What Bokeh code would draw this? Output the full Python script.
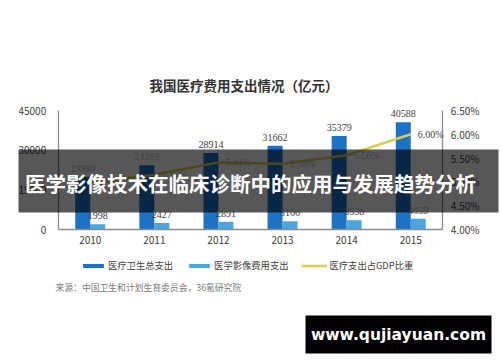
from bokeh.plotting import figure
from bokeh.models import (ColumnDataSource, Range1d, FactorRange, LinearAxis, FixedTicker,
                          PrintfTickFormatter, NumeralTickFormatter, LabelSet, Label,
                          BoxAnnotation, Legend, LegendItem)
from bokeh.transform import dodge
from bokeh.embed import file_html
from bokeh.resources import INLINE

# ---- data ----
years = ["2010", "2011", "2012", "2013", "2014", "2015"]
total_spend = [19980, 24269, 28914, 31662, 35379, 40588]
imaging_spend = [1998, 2427, 2891, 3166, 3538, 4059]
gdp_share = [4.98, 5.15, 5.41, 5.38, 5.56, 6.00]
left_ticks = [0, 15000, 30000, 45000]
right_ticks = [4.0, 4.5, 5.0, 5.5, 6.0, 6.5]
series_names = ["医疗卫生总支出", "医学影像费用支出", "医疗支出占GDP比重"]
title_text = "我国医疗费用支出情况（亿元）"
source_text = "来源：中国卫生和计划生育委员会，36氪研究院"
overlay_text = "医学影像技术在临床诊断中的应用与发展趋势分析"
watermark_text = "www.qujiayuan.com"

# ---- layout / style ----
FONT = "Noto Sans CJK SC"
W, H = 500, 362
PLOT_TOP, PLOT_BOTTOM = 110, 229          # pixel rows of the value-axis ends
C_DARK = "#1d72c6"
C_LIGHT = "#4aa6de"
C_LINE = "#d9cf4f"
TXT = "#404040"
AX = "#8c8c8c"

def sy(y_top):
    # top-based canvas row -> bokeh screen y (bottom-based, frame == canvas)
    return H - y_top

def span_range(lo, hi):
    per_px = (hi - lo) / (PLOT_BOTTOM - PLOT_TOP)
    return Range1d(lo - (H - PLOT_BOTTOM) * per_px, hi + PLOT_TOP * per_px)

src = ColumnDataSource(dict(
    year=years, total=total_spend, imaging=imaging_spend, share=gdp_share,
    total_lbl=[str(v) for v in total_spend],
    imaging_lbl=[str(v) for v in imaging_spend],
    share_lbl=["%.2f%%" % v for v in gdp_share],
))

xr = FactorRange(*years, range_padding=0.9, range_padding_units="absolute")
p = figure(width=W, height=H, x_range=xr, y_range=span_range(left_ticks[0], left_ticks[-1]),
           output_backend="svg", toolbar_location=None, title=None,
           min_border_left=0, min_border_right=0, min_border_top=0, min_border_bottom=0)
p.outline_line_color = None
p.xgrid.grid_line_color = None
p.ygrid.grid_line_color = None
p.background_fill_color = "white"
p.border_fill_color = "white"
p.extra_y_ranges = {"pct": span_range(right_ticks[0], right_ticks[-1])}

bw = 0.234
r_total = p.vbar(x=dodge("year", -bw / 2, range=p.x_range), top="total", width=bw,
                 source=src, color=C_DARK, line_color=None)
r_img = p.vbar(x=dodge("year", bw / 2, range=p.x_range), top="imaging", width=bw,
               source=src, color=C_LIGHT, line_color=None)
r_line = p.line(x="year", y="share", source=src, y_range_name="pct",
                line_color=C_LINE, line_width=2.5)

# axes (fixed in place so the frame can cover the whole canvas)
ya = p.yaxis[0]
ya.ticker = FixedTicker(ticks=left_ticks)
ya.formatter = NumeralTickFormatter(format="0")
ya.fixed_location = 0
ya.bounds = (left_ticks[0], left_ticks[-1])
ra = LinearAxis(y_range_name="pct", ticker=FixedTicker(ticks=right_ticks),
                formatter=PrintfTickFormatter(format="%.2f%%"),
                fixed_location=len(years), bounds=(right_ticks[0], right_ticks[-1]))
p.add_layout(ra, "right")
xa = p.xaxis[0]
xa.fixed_location = 0
xa.bounds = (0, len(years))
for ax in [ya, ra, xa]:
    ax.axis_line_color = AX
    ax.axis_line_width = 1.3
    ax.major_tick_line_color = None
    ax.minor_tick_line_color = None
    ax.major_tick_out = 0
    ax.major_tick_in = 0
    ax.major_label_text_font = FONT
    ax.major_label_text_font_size = "10px"
    ax.major_label_text_color = TXT
ya.major_label_standoff = 12
ra.major_label_standoff = 8
xa.major_label_standoff = 6

# dark band across the middle (above bars, below labels)
p.add_layout(BoxAnnotation(left=18, right=498, top=sy(149), bottom=sy(212),
                           left_units="screen", right_units="screen",
                           top_units="screen", bottom_units="screen",
                           fill_color="black", fill_alpha=0.66, line_color=None, level="guide"))

# value labels
p.add_layout(LabelSet(x=dodge("year", -bw / 2, range=p.x_range), y="total", text="total_lbl",
                      source=src, text_align="center", text_baseline="bottom", y_offset=5,
                      text_font=FONT, text_font_size="10px", text_color=TXT))
p.add_layout(LabelSet(x=dodge("year", bw / 2, range=p.x_range), y="imaging", text="imaging_lbl",
                      source=src, text_align="center", text_baseline="bottom", y_offset=5,
                      text_font=FONT, text_font_size="10px", text_color=TXT))
p.add_layout(LabelSet(x="year", y="share", text="share_lbl", y_range_name="pct",
                      source=src, text_align="left", text_baseline="middle", x_offset=7,
                      text_font=FONT, text_font_size="10px", text_color=TXT))

# title
p.add_layout(Label(x=243.5, y=sy(84), x_units="screen", y_units="screen", text=title_text,
                   text_align="center", text_baseline="middle", text_font=FONT,
                   text_font_size="13.5px", text_font_style="bold", text_color="#333333"))

# legend
legend = Legend(items=[LegendItem(label=series_names[0], renderers=[r_total]),
                       LegendItem(label=series_names[1], renderers=[r_img]),
                       LegendItem(label=series_names[2], renderers=[r_line])],
                orientation="horizontal", location=(80, sy(272)),
                glyph_width=26, glyph_height=5, label_standoff=2, spacing=13,
                padding=0, margin=0, border_line_color=None, background_fill_alpha=0,
                label_text_font=FONT, label_text_font_size="9.3px", label_text_color=TXT,
                label_height=10)
p.add_layout(legend, "center")

# source note
p.add_layout(Label(x=55, y=sy(287), x_units="screen", y_units="screen", text=source_text,
                   text_align="left", text_baseline="middle", text_font=FONT,
                   text_font_size="8.8px", text_color="#7a7a7a"))

# banner text
p.add_layout(Label(x=250, y=sy(182), x_units="screen", y_units="screen", text=overlay_text,
                   text_align="center", text_baseline="middle", text_font=FONT,
                   text_font_size="20.5px", text_font_style="bold", text_color="white",
                   level="overlay"))

# watermark
p.add_layout(BoxAnnotation(left=305, right=491, top=sy(315), bottom=sy(353),
                           left_units="screen", right_units="screen",
                           top_units="screen", bottom_units="screen",
                           fill_color="black", fill_alpha=1.0, line_color=None, level="overlay"))
p.add_layout(Label(x=398, y=sy(334), x_units="screen", y_units="screen", text=watermark_text,
                   text_align="center", text_baseline="middle", text_font="DejaVu Sans",
                   text_font_size="15.5px", text_font_style="bold", text_color="white",
                   level="overlay"))

open("out.html", "w").write(file_html(p, INLINE))
